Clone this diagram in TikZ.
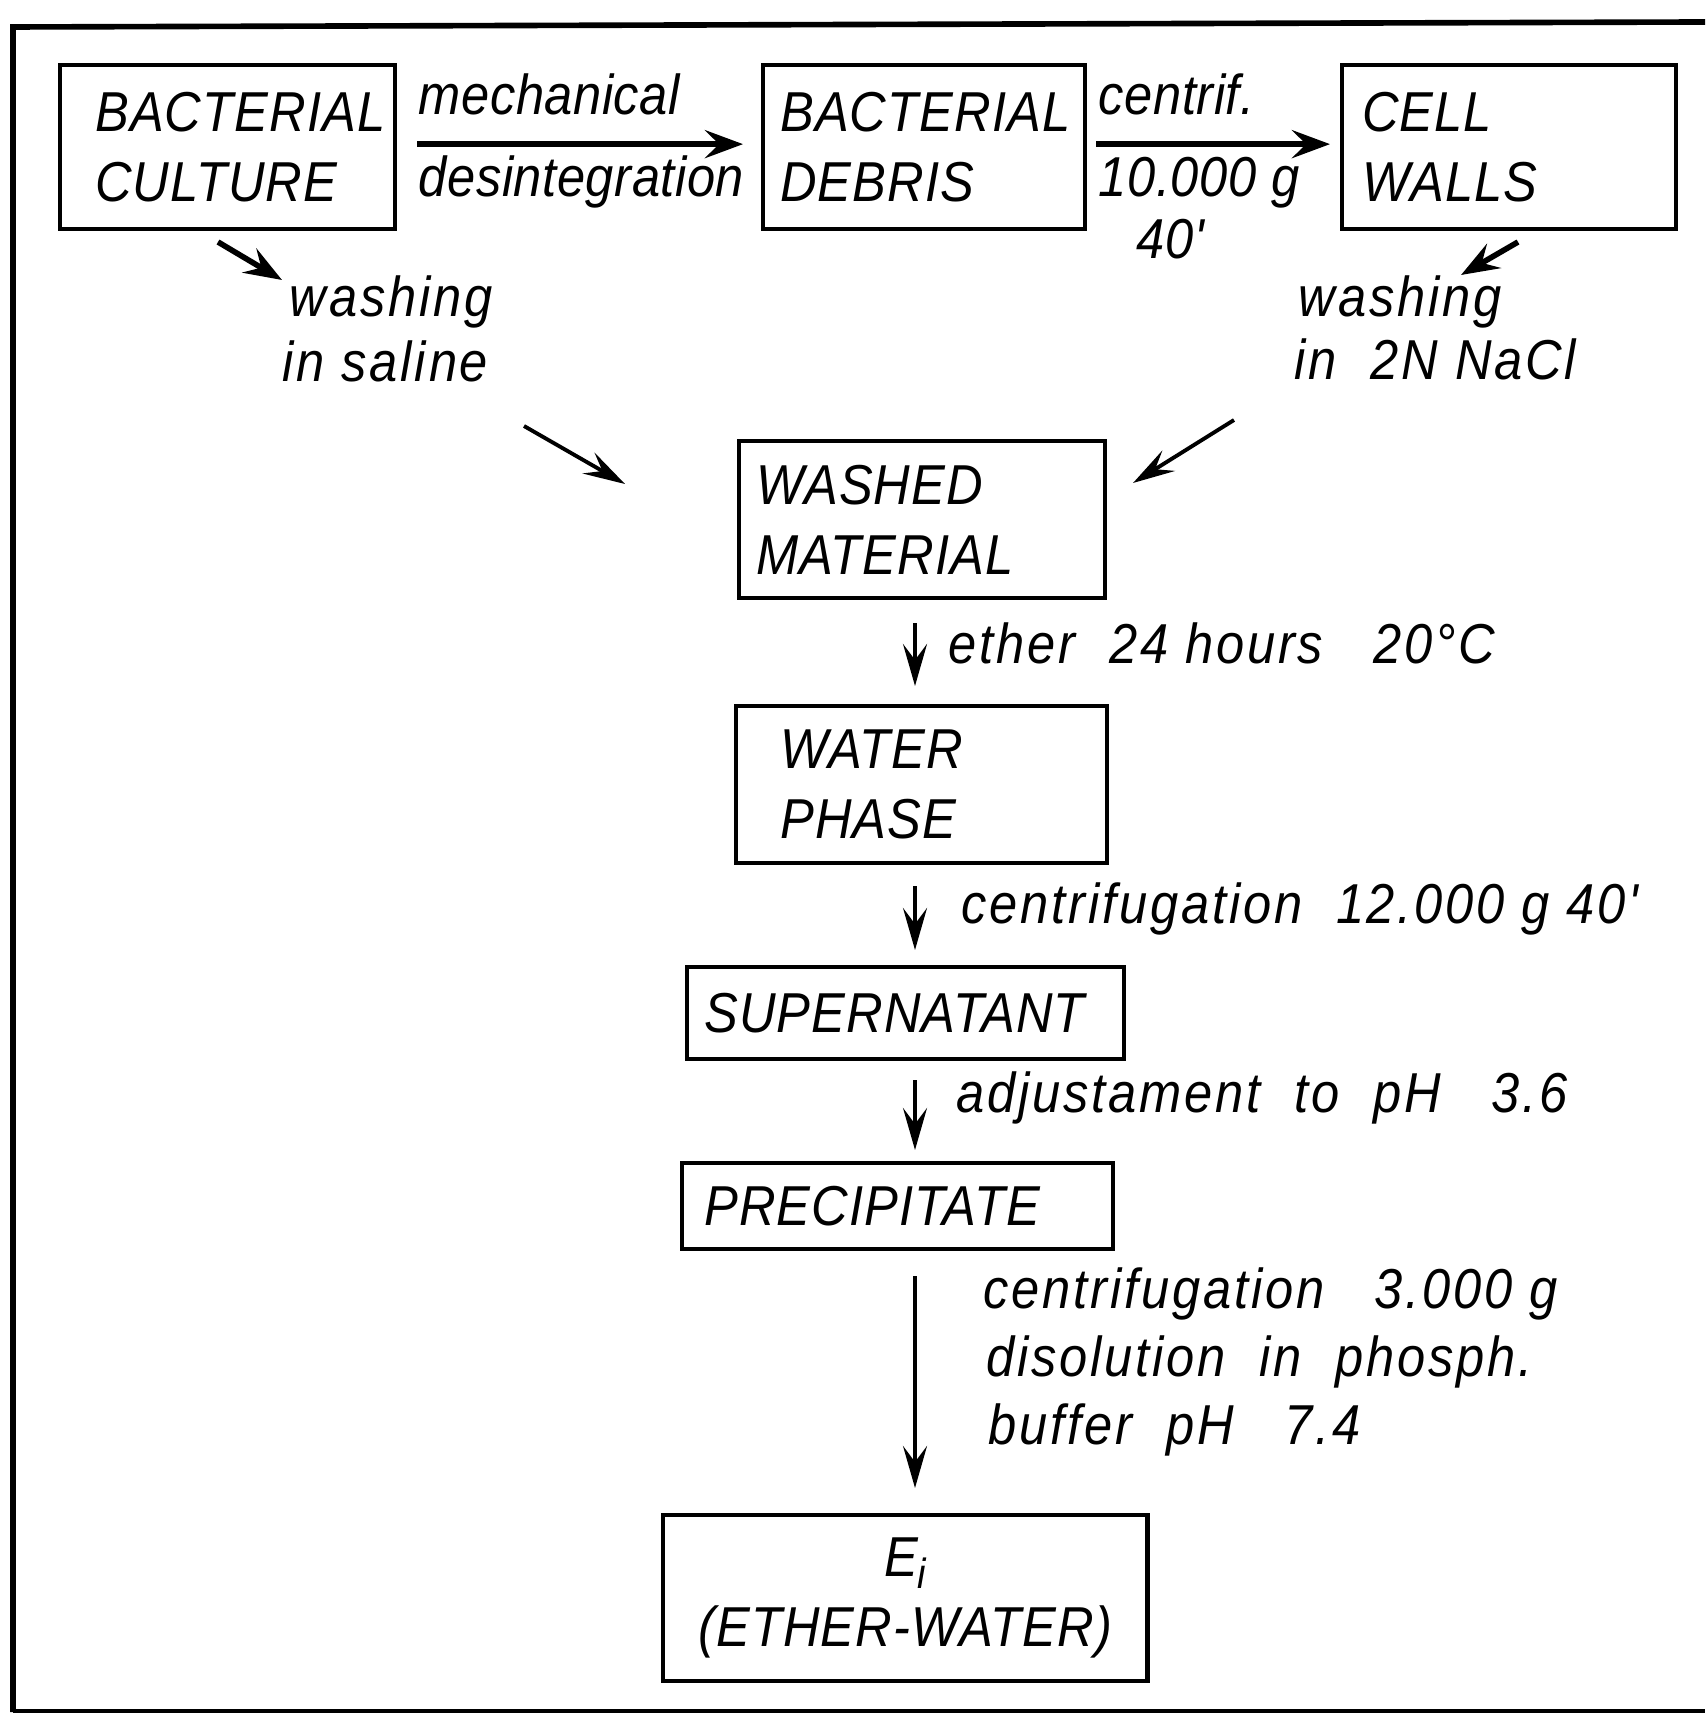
\documentclass[tikz,border=0pt]{standalone}
\usepackage{fontspec}
\newfontfamily\lettering[FakeStretch=0.9,LetterSpace=2]{Liberation Sans}
\newfontfamily\letteringn[FakeStretch=0.9,LetterSpace=1]{Liberation Sans}
\newfontfamily\letteringw[FakeStretch=0.9,LetterSpace=5]{Liberation Sans}
\usetikzlibrary{arrows.meta}
\begin{document}
\begin{tikzpicture}[x=0.01cm,y=-0.01cm,
  every node/.style={font=\lettering\itshape\fontsize{16}{20}\selectfont},
  box/.style={draw, line width=1.2pt, anchor=north west, align=left, inner ysep=0pt},
  lbl/.style={anchor=base west, inner sep=0pt, font=\letteringw\itshape\fontsize{16}{20}\selectfont},
  lbln/.style={anchor=base west, inner sep=0pt, font=\letteringn\itshape\fontsize{16}{20}\selectfont},
  arr/.style={line width=1.1pt, -{Stealth[length=0.42cm,width=0.24cm,inset=0.16cm]}},
  barr/.style={line width=1.6pt, -{Stealth[length=0.38cm,width=0.28cm,inset=0.14cm]}},
  frame/.style={line width=1.6pt}
]
\useasboundingbox (0,0) rectangle (1705,1713);
% frame
\draw[frame] (1705,22) -- (13,27) -- (13,1712);
\draw[line width=1pt] (13,1711) -- (1705,1711);

% boxes
\node[box, minimum width=3.35cm, minimum height=1.64cm, text width=2.65cm, inner xsep=0.35cm]
  (A) at (58,63) {BACTERIAL\\CULTURE};
\node[box, minimum width=3.22cm, minimum height=1.64cm, text width=2.88cm, inner xsep=0.17cm]
  (B) at (761,63) {BACTERIAL\\DEBRIS};
\node[box, minimum width=3.34cm, minimum height=1.64cm, text width=2.94cm, inner xsep=0.2cm]
  (C) at (1340,63) {CELL\\WALLS};
\node[box, minimum width=3.66cm, minimum height=1.57cm, text width=3.32cm, inner xsep=0.17cm]
  (D) at (737,439) {WASHED\\MATERIAL};
\node[box, minimum width=3.71cm, minimum height=1.57cm, text width=2.83cm, inner xsep=0.44cm]
  (E) at (734,704) {WATER\\PHASE};
\node[box, minimum width=4.37cm, minimum height=0.92cm, text width=4.03cm, inner xsep=0.17cm]
  (F) at (685,965) {SUPERNATANT};
\node[box, minimum width=4.31cm, minimum height=0.86cm, text width=3.87cm, inner xsep=0.22cm]
  (G) at (680,1161) {PRECIPITATE};
\node[box, align=center, minimum width=4.84cm, minimum height=1.66cm, text width=4.5cm, inner xsep=0.17cm]
  (H) at (661,1513) {E\raisebox{-0.4ex}{\fontsize{12}{12}\selectfont i}\\(ETHER-WATER)};

% labels
\node[lbln] (l1) at (418,115) {mechanical};
\node[lbln] (l2) at (418,197) {desintegration};
\node[lbln] (l3) at (1098,115) {centrif.};
\node[lbln] (l4) at (1098,197) {10.000 g};
\node[lbln] (l5) at (1136,259) {40'};
\node[lbl] (l6) at (289,317) {washing};
\node[lbl] (l7) at (282,382) {in saline};
\node[lbl] (l8) at (1298,317) {washing};
\node[lbl] (l9) at (1294,380) {in\ \ 2N NaCl};
\node[lbl] (l10) at (948,663) {ether\ \ 24 hours\ \ \ 20°C};
\node[lbl] (l11) at (961,923) {centrifugation\ \ 12.000 g\ 40'};
\node[lbl] (l12) at (956,1112) {adjustament\ \ to\ \ pH\ \ \ 3.6};
\node[lbl] (l13) at (983,1308) {centrifugation\ \ \ 3.000 g};
\node[lbl] (l14) at (986,1376) {disolution\ \ in\ \ phosph.};
\node[lbl] (l15) at (988,1444) {buffer\ \ pH\ \ \ 7.4};

% free-end coordinates
\coordinate (col) at (915,0);
\coordinate (aw1) at (218,242);
\coordinate (aw2) at (282,280);
\coordinate (sw1) at (524,426);
\coordinate (sw2) at (625,484);
\coordinate (cw1) at (1518,242);
\coordinate (cw2) at (1461,275);
\coordinate (nw1) at (1234,420);
\coordinate (nw2) at (1133,483);

% connectors
\draw[barr, shorten <=0.2cm, shorten >=0.18cm] ([yshift=0.03cm]A.east) -- ([yshift=0.03cm]B.west);
\draw[barr, shorten <=0.09cm, shorten >=0.1cm] ([yshift=0.03cm]B.east) -- ([yshift=0.03cm]C.west);
\draw[barr] (aw1) -- (aw2);
\draw[arr] (sw1) -- (sw2);
\draw[barr] (cw1) -- (cw2);
\draw[arr] (nw1) -- (nw2);
\draw[arr, shorten <=0.23cm, shorten >=0.18cm] (D.south -| col) -- (E.north -| col);
\draw[arr, shorten <=0.21cm, shorten >=0.15cm] (E.south -| col) -- (F.north -| col);
\draw[arr, shorten <=0.19cm, shorten >=0.11cm] (F.south -| col) -- (G.north -| col);
\draw[arr, shorten <=0.25cm, shorten >=0.25cm] (G.south -| col) -- (H.north -| col);
\end{tikzpicture}
\end{document}
